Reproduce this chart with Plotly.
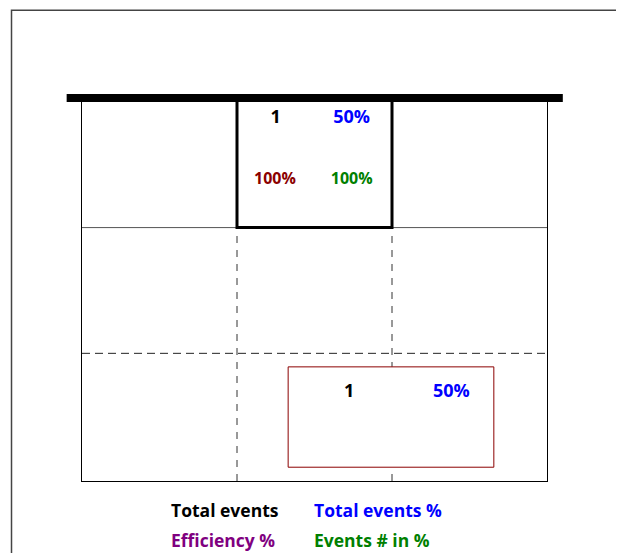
import plotly.graph_objects as go

# table layout: 3 columns x 3 rows, y counts upward, top edge = 3
COL_EDGES = [0, 1, 2, 3]
ROW_SOLID = 1.985
ROW_DASHED = 1.0

# highlighted cell (thick frame)
CELL_X = [1, 2]
CELL_Y = [ROW_SOLID, 3]
CELL_TEXT = ['1', '50%', '100%', '100%']
CELL_TX = [1.25, 1.74, 1.245, 1.74]
CELL_TY = [2.84, 2.84, 2.36, 2.36]
CELL_COLORS = ['black', 'blue', '#8b0000', 'green']
CELL_SIZES = [18, 18, 16, 16]

# red box in the bottom row
RBOX_X = [1.33, 2.657]
RBOX_Y = [0.108, 0.894]
RBOX_TEXT = ['1', '50%']
RBOX_TX = [1.723, 2.383]
RBOX_TY = [0.697, 0.697]
RBOX_COLORS = ['black', 'blue']

LEGEND_TEXT = ['Total events', 'Total events %', 'Efficiency %', 'Events # in %']
LEGEND_COLORS = ['black', 'blue', 'purple', 'green']

FONT = 'Open Sans'

fig = go.Figure()

# grid lines
fig.add_shape(type='line', x0=COL_EDGES[0], x1=COL_EDGES[-1], y0=ROW_SOLID, y1=ROW_SOLID,
              line=dict(color='#555', width=1), layer='below')
fig.add_shape(type='line', x0=COL_EDGES[0], x1=COL_EDGES[-1], y0=ROW_DASHED, y1=ROW_DASHED,
              line=dict(color='#222', width=1, dash='8px,5px'), layer='below')
for xe in COL_EDGES[1:-1]:
    fig.add_shape(type='line', x0=xe, x1=xe, y0=0, y1=ROW_SOLID,
                  line=dict(color='#333', width=1, dash='7px,7px'), layer='below')

# red box (white fill hides the dashes under it)
fig.add_shape(type='rect', x0=RBOX_X[0], x1=RBOX_X[1], y0=RBOX_Y[0], y1=RBOX_Y[1],
              line=dict(color='#8b0000', width=1), fillcolor='white', layer='below')

# thick cell frame
fig.add_shape(type='rect', x0=CELL_X[0], x1=CELL_X[1], y0=CELL_Y[0], y1=CELL_Y[1],
              line=dict(color='black', width=3), layer='below')

fig.add_trace(go.Scatter(x=CELL_TX, y=CELL_TY, mode='text', text=CELL_TEXT,
                         textfont=dict(family=FONT, size=CELL_SIZES, color=CELL_COLORS, weight='bold'),
                         hoverinfo='skip', showlegend=False))
fig.add_trace(go.Scatter(x=RBOX_TX, y=RBOX_TY, mode='text', text=RBOX_TEXT,
                         textfont=dict(family=FONT, size=18, color=RBOX_COLORS, weight='bold'),
                         hoverinfo='skip', showlegend=False))

# heavy bar across the top + outer page border
fig.add_shape(type='line', xref='paper', yref='paper', x0=-0.033, x1=1.034, y0=1.0, y1=1.0,
              line=dict(color='black', width=8))
fig.add_shape(type='rect', xref='paper', yref='paper', x0=-0.1516, x1=1.151, y0=-0.4, y1=1.229,
              line=dict(color='#444', width=1.5))

# text legend under the table
for i, (t, c) in enumerate(zip(LEGEND_TEXT, LEGEND_COLORS)):
    fig.add_annotation(text=t, xref='paper', yref='paper', x=[0.188, 0.494][i % 2],
                       y=[-0.076, -0.154][i // 2], xanchor='left', yanchor='middle',
                       showarrow=False, font=dict(family=FONT, size=17.5, color=c, weight='bold'))

axis = dict(range=[0, 3], showgrid=False, zeroline=False, showticklabels=False, ticks='',
            showline=True, linecolor='black', linewidth=1, mirror=True, fixedrange=True)
fig.update_xaxes(**axis)
fig.update_yaxes(**axis)
fig.update_layout(width=624, height=553, margin=dict(l=74, r=85, t=90, b=80),
                  plot_bgcolor='white', paper_bgcolor='white', showlegend=False)

fig.write_html('out.html')
